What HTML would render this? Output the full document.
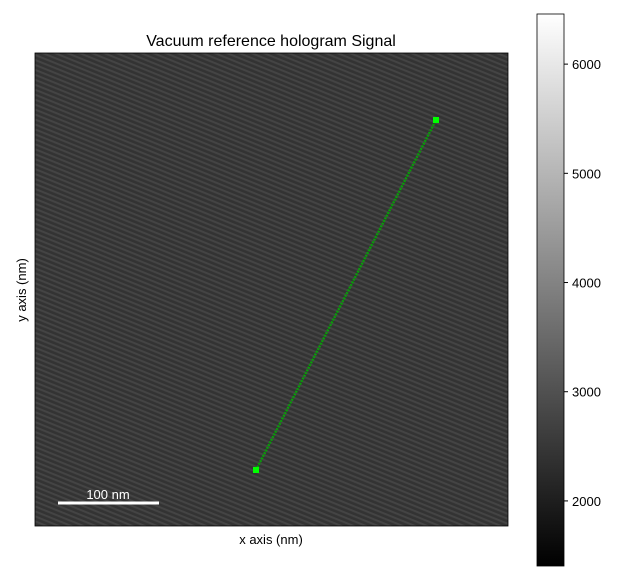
<!DOCTYPE html>
<html><head><meta charset="utf-8"><style>
body{margin:0;background:#fff;font-family:"Liberation Sans","DejaVu Sans",sans-serif;}
</style></head><body>
<svg width="640" height="581" viewBox="0 0 640 581" xmlns="http://www.w3.org/2000/svg">
<defs>
<pattern id="stripes" width="4.6" height="4.6" patternUnits="userSpaceOnUse" patternTransform="rotate(22)">
<rect width="4.6" height="4.6" fill="#333"/>
<rect width="4.6" height="2" fill="#444"/>
</pattern>
<linearGradient id="cmap" x1="0" y1="1" x2="0" y2="0">
<stop offset="0" stop-color="#000"/><stop offset="1" stop-color="#fff"/>
</linearGradient>
</defs>
<text x="271" y="46" font-size="16" text-anchor="middle">Vacuum reference hologram Signal</text>
<rect x="35" y="53" width="473" height="473" fill="url(#stripes)"/>
<g id="marks"></g>
<rect x="35" y="53" width="473" height="473" fill="none" stroke="#000" stroke-width="0.8"/>
<line x1="58" y1="503" x2="159" y2="503" stroke="#fff" stroke-width="3"/>
<text x="108" y="499" font-size="13" fill="#fff" text-anchor="middle">100 nm</text>
<text x="271" y="544" font-size="13" text-anchor="middle">x axis (nm)</text>
<text x="26" y="290" font-size="13" text-anchor="middle" transform="rotate(-90 26 290)">y axis (nm)</text>
<rect x="537" y="14" width="27" height="552" fill="url(#cmap)" stroke="#000" stroke-width="0.8"/>
<g id="cbticks"></g>
</svg>
<script>
const cbTicks=[2000,3000,4000,5000,6000];
const cbRange=[1404,6459];
const pointA=[221,417];
const pointB=[401,67];
const extent=[0,473];
const ns="http://www.w3.org/2000/svg";
function xs(v){return 35+(v-extent[0])/(extent[1]-extent[0])*473;}
function ys(v){return 53+(v-extent[0])/(extent[1]-extent[0])*473;}
function cy(v){return 566-(v-cbRange[0])/(cbRange[1]-cbRange[0])*552;}
const g=document.getElementById('cbticks');
cbTicks.forEach(t=>{
 const l=document.createElementNS(ns,'line');
 l.setAttribute('x1',564);l.setAttribute('x2',568);l.setAttribute('y1',cy(t));l.setAttribute('y2',cy(t));
 l.setAttribute('stroke','#000');
 
 
 g.appendChild(l);
 const tx=document.createElementNS(ns,'text');
 tx.setAttribute('x',572);tx.setAttribute('y',cy(t)+5);tx.setAttribute('font-size','13');
 tx.textContent=t;
 
 
 g.appendChild(tx);
});
const m=document.getElementById('marks');
const ln=document.createElementNS(ns,'line');
ln.setAttribute('x1',xs(pointA[0]));ln.setAttribute('y1',ys(pointA[1]));
ln.setAttribute('x2',xs(pointB[0]));ln.setAttribute('y2',ys(pointB[1]));
ln.setAttribute('stroke','#0a9a0a');ln.setAttribute('stroke-width','2.5');ln.setAttribute('stroke-dasharray','2 1');


m.appendChild(ln);
[pointA,pointB].forEach(p=>{
 const r=document.createElementNS(ns,'rect');
 r.setAttribute('x',xs(p[0])-3);r.setAttribute('y',ys(p[1])-3);r.setAttribute('width',6);r.setAttribute('height',6);
 r.setAttribute('fill','#00ff00');
 
 
 m.appendChild(r);
});
</script>
</body></html>
